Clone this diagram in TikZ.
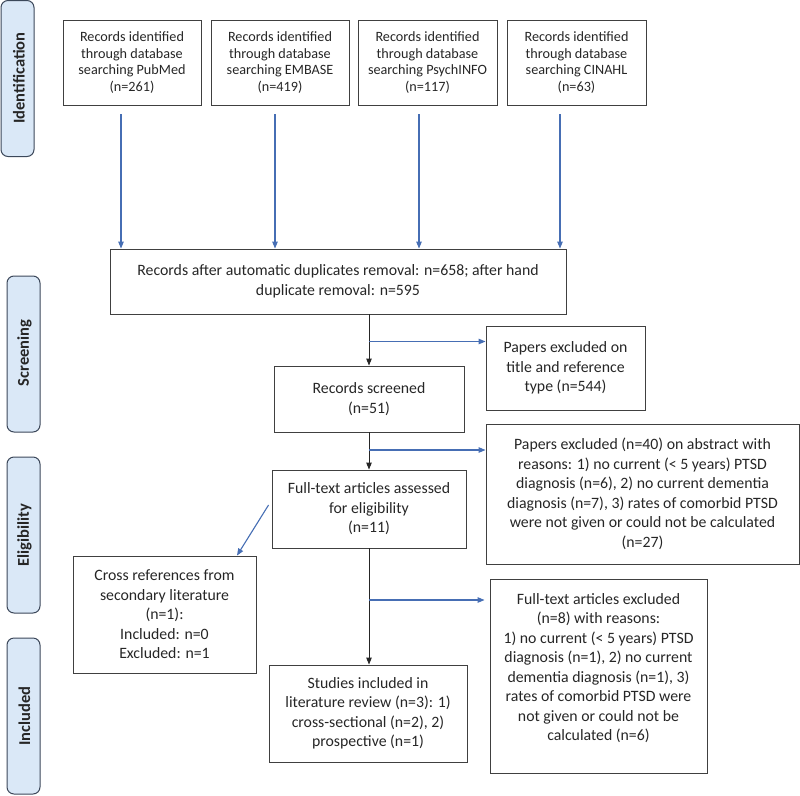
\documentclass[tikz,border=0pt]{standalone}
\usepackage{fontspec}
\setmainfont{Carlito}
\usetikzlibrary{arrows.meta}
\definecolor{boxgray}{RGB}{64,64,64}
\definecolor{barfill}{RGB}{218,232,247}
\definecolor{barline}{RGB}{60,72,90}
\definecolor{arrblue}{RGB}{70,110,180}
\begin{document}
\begin{tikzpicture}[x=1pt,y=-1pt,
  box/.style={draw=boxgray, line width=0.9pt, rectangle, inner sep=0pt, align=center,
    font=\fontsize{15.8}{19.5}\selectfont, text=black!85},
  topbox/.style={box, font=\fontsize{14.2}{16.4}\selectfont},
  sidebar/.style={draw=barline, fill=barfill, line width=1pt, rounded corners=7pt,
    minimum width=33pt, minimum height=156pt, inner sep=0pt},
  sidelabel/.style={rotate=90, font=\fontsize{16.5}{18}\selectfont\bfseries, text=black!85},
  barrow/.style={draw=arrblue, line width=1.1pt, -{Triangle[length=7pt,width=5.5pt]}},
  karrow/.style={draw=black!85, line width=0.9pt, -{Triangle[length=7pt,width=5.5pt]}}
]
\useasboundingbox (0,0) rectangle (800,795);

% side bars
\node[sidebar] (sb1) at (17.5,78.5) {};
\node[sidelabel] (sl1) at (19,78) {Identification};
\node[sidebar] (sb2) at (23.5,354) {};
\node[sidelabel] (sl2) at (24.5,353) {Screening};
\node[sidebar] (sb3) at (23.5,535) {};
\node[sidelabel] (sl3) at (24.5,535) {Eligibility};
\node[sidebar] (sb4) at (23.5,716) {};
\node[sidelabel] (sl4) at (24.5,716) {Included};

% top boxes
\node[topbox, minimum width=138pt, minimum height=85pt] (b1) at (132,62.5)
  {Records identified\\through database\\searching PubMed\\(n=261)};
\node[topbox, minimum width=138pt, minimum height=85pt] (b2) at (280,62.5)
  {Records identified\\through database\\searching EMBASE\\(n=419)};
\node[topbox, minimum width=139pt, minimum height=85pt] (b3) at (427.5,62.5)
  {Records identified\\through database\\searching PsychINFO\\(n=117)};
\node[topbox, minimum width=139pt, minimum height=85pt] (b4) at (576.5,62.5)
  {Records identified\\through database\\searching CINAHL\\(n=63)};

% main boxes
\node[box, minimum width=456pt, minimum height=65pt] (rec) at (338,281.5)
  {Records after automatic duplicates removal: n=658; after hand\\duplicate removal: n=595};
\node[box, minimum width=190pt, minimum height=66pt] (scr) at (369,399)
  {Records screened\\(n=51)};
\node[box, minimum width=159pt, minimum height=84pt] (pe1) at (565.5,368)
  {Papers excluded on\\title and reference\\type (n=544)};
\node[box, minimum width=313pt, minimum height=140pt] (pe2) at (642.5,494)
  {Papers excluded (n=40) on abstract with\\reasons: 1) no current (< 5 years) PTSD\\diagnosis (n=6), 2) no current dementia\\diagnosis (n=7), 3) rates of comorbid PTSD\\were not given or could not be calculated\\(n=27)};
\node[box, minimum width=194pt, minimum height=78pt] (ft) at (369,509)
  {Full-text articles assessed\\for eligibility\\(n=11)};
\node[box, minimum width=183pt, minimum height=117pt] (cr) at (164.5,614.5)
  {Cross references from\\secondary literature\\(n=1):\\Included: n=0\\Excluded: n=1};
\node[box, minimum width=217pt, minimum height=194pt] (fte) at (598.5,676) {};
\node[align=center, inner sep=0pt, font=\fontsize{15.8}{19.5}\selectfont, text=black!85] (fteT) at (598.5,668)
  {Full-text articles excluded\\(n=8) with reasons:\\1) no current (< 5 years) PTSD\\diagnosis (n=1), 2) no current\\dementia diagnosis (n=1), 3)\\rates of comorbid PTSD were\\not given or could not be\\calculated (n=6)};
\node[box, minimum width=198pt, minimum height=97pt] (st) at (368,713.5)
  {Studies included in\\literature review (n=3): 1)\\cross-sectional (n=2), 2)\\prospective (n=1)};

% blue arrows from databases
\draw[barrow] ([xshift=-11pt,yshift=-9pt]b1.south) -- ([xshift=-11pt]b1.south |- rec.north);
\draw[barrow] ([xshift=-5pt,yshift=-9pt]b2.south) -- ([xshift=-5pt]b2.south |- rec.north);
\draw[barrow] ([xshift=-8.5pt,yshift=-9pt]b3.south) -- ([xshift=-8.5pt]b3.south |- rec.north);
\draw[barrow] ([xshift=-16.5pt,yshift=-9pt]b4.south) -- ([xshift=-16.5pt]b4.south |- rec.north);

% main flow
\coordinate (j1) at (369,341.5);
\coordinate (j2) at (369,450);
\coordinate (j3) at (369,600);
\draw[karrow] (scr.north |- rec.south) -- (scr.north);
\draw[karrow] (scr.south) -- (ft.north);
\draw[karrow] (ft.south) -- (ft.south |- st.north);
\draw[barrow] (j1) -- (pe1.west |- j1);
\draw[barrow] (j2) -- (pe2.west |- j2);
\draw[barrow, shorten >=5pt] (j3) -- (fte.west |- j3);

% diagonal to cross references
\draw[barrow] ([xshift=-3pt,yshift=4pt]ft.west) -- ([xshift=72.5pt]cr.north);
\end{tikzpicture}
\end{document}
